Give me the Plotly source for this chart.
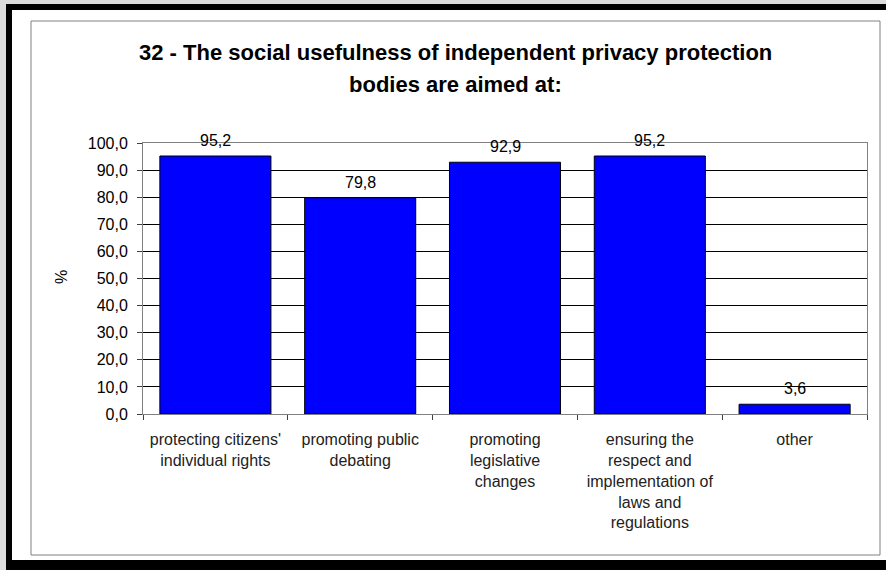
import plotly.graph_objects as go

categories = [
    "protecting citizens'<br>individual rights",
    "promoting public<br>debating",
    "promoting<br>legislative<br>changes",
    "ensuring the<br>respect and<br>implementation of<br>laws and<br>regulations",
    "other",
]
values = [95.2, 79.8, 92.9, 95.2, 3.6]
title_lines = [
    "32 - The social usefulness of independent privacy protection",
    "bodies are aimed at:",
]
y_label = "%"

FONT = "Liberation Sans, Arial, sans-serif"

# plot area in pixels: x 143..867, y 143..414
L, R, T, B = 143, 867, 143, 414
W, H = R - L, B - T


def fx(px):
    return (px - L) / W


def fy(py):
    return (B - py) / H


fig = go.Figure()
fig.add_trace(go.Bar(
    x=categories,
    y=values,
    marker=dict(color="#0000FF", line=dict(color="#000000", width=1)),
    showlegend=False,
    hoverinfo="skip",
))

annotations = []
for c, v in zip(categories, values):
    annotations.append(dict(
        x=c, y=v, xref="x", yref="y",
        text=f"{v:.1f}".replace(".", ","),
        showarrow=False, yanchor="bottom", yshift=5,
        font=dict(family=FONT, size=16, color="#000000"),
    ))

annotations.append(dict(
    x=fx(455), y=fy(52), xref="paper", yref="paper",
    text=f"<b>{title_lines[0]}</b>", showarrow=False,
    xanchor="center", yanchor="middle",
    font=dict(family=FONT, size=22, color="#000000"),
))
annotations.append(dict(
    x=fx(455), y=fy(84), xref="paper", yref="paper",
    text=f"<b>{title_lines[1]}</b>", showarrow=False,
    xanchor="center", yanchor="middle",
    font=dict(family=FONT, size=22, color="#000000"),
))
annotations.append(dict(
    x=fx(61), y=fy(277), xref="paper", yref="paper",
    text=y_label, showarrow=False, textangle=-90,
    xanchor="center", yanchor="middle",
    font=dict(family=FONT, size=16, color="#000000"),
))

shapes = [
    dict(type="rect", xref="paper", yref="paper",
         x0=fx(6), x1=fx(900), y0=fy(580), y1=fy(4),
         fillcolor="#000000", line=dict(width=0), layer="below"),
    dict(type="rect", xref="paper", yref="paper",
         x0=fx(12), x1=fx(900), y0=fy(560), y1=fy(10),
         fillcolor="#FFFFFF", line=dict(width=0), layer="below"),
    dict(type="rect", xref="paper", yref="paper",
         x0=fx(31), x1=fx(880), y0=fy(555), y1=fy(21),
         fillcolor="rgba(0,0,0,0)", line=dict(color="#808080", width=1),
         layer="below"),
]

fig.update_layout(
    width=886, height=570,
    margin=dict(l=L, r=886 - R, t=T, b=570 - B, pad=0),
    paper_bgcolor="#DCDCDC",
    plot_bgcolor="#FFFFFF",
    separators=",.",
    bargap=0.233,
    annotations=annotations,
    shapes=shapes,
    font=dict(family=FONT, color="#000000"),
)
fig.update_xaxes(
    type="category",
    showline=True, linecolor="#808080", linewidth=1, mirror=True,
    ticks="outside", tickson="boundaries", ticklen=5, tickcolor="#404040",
    showgrid=False,
    tickfont=dict(family=FONT, size=16, color="#222222"),
    ticklabelstandoff=11,
)
fig.update_yaxes(
    range=[0, 100], dtick=10, tick0=0, tickformat=".1f",
    showline=True, linecolor="#808080", linewidth=1, mirror=True,
    ticks="outside", ticklen=5, tickcolor="#404040",
    showgrid=True, gridcolor="#000000", gridwidth=1,
    zeroline=False,
    tickfont=dict(family=FONT, size=16, color="#000000"),
    ticklabelstandoff=6,
)

fig.write_html(
    "out.html",
    config={"displayModeBar": False},
    post_script="document.body.style.margin='0';document.body.style.background='#DCDCDC';",
)
